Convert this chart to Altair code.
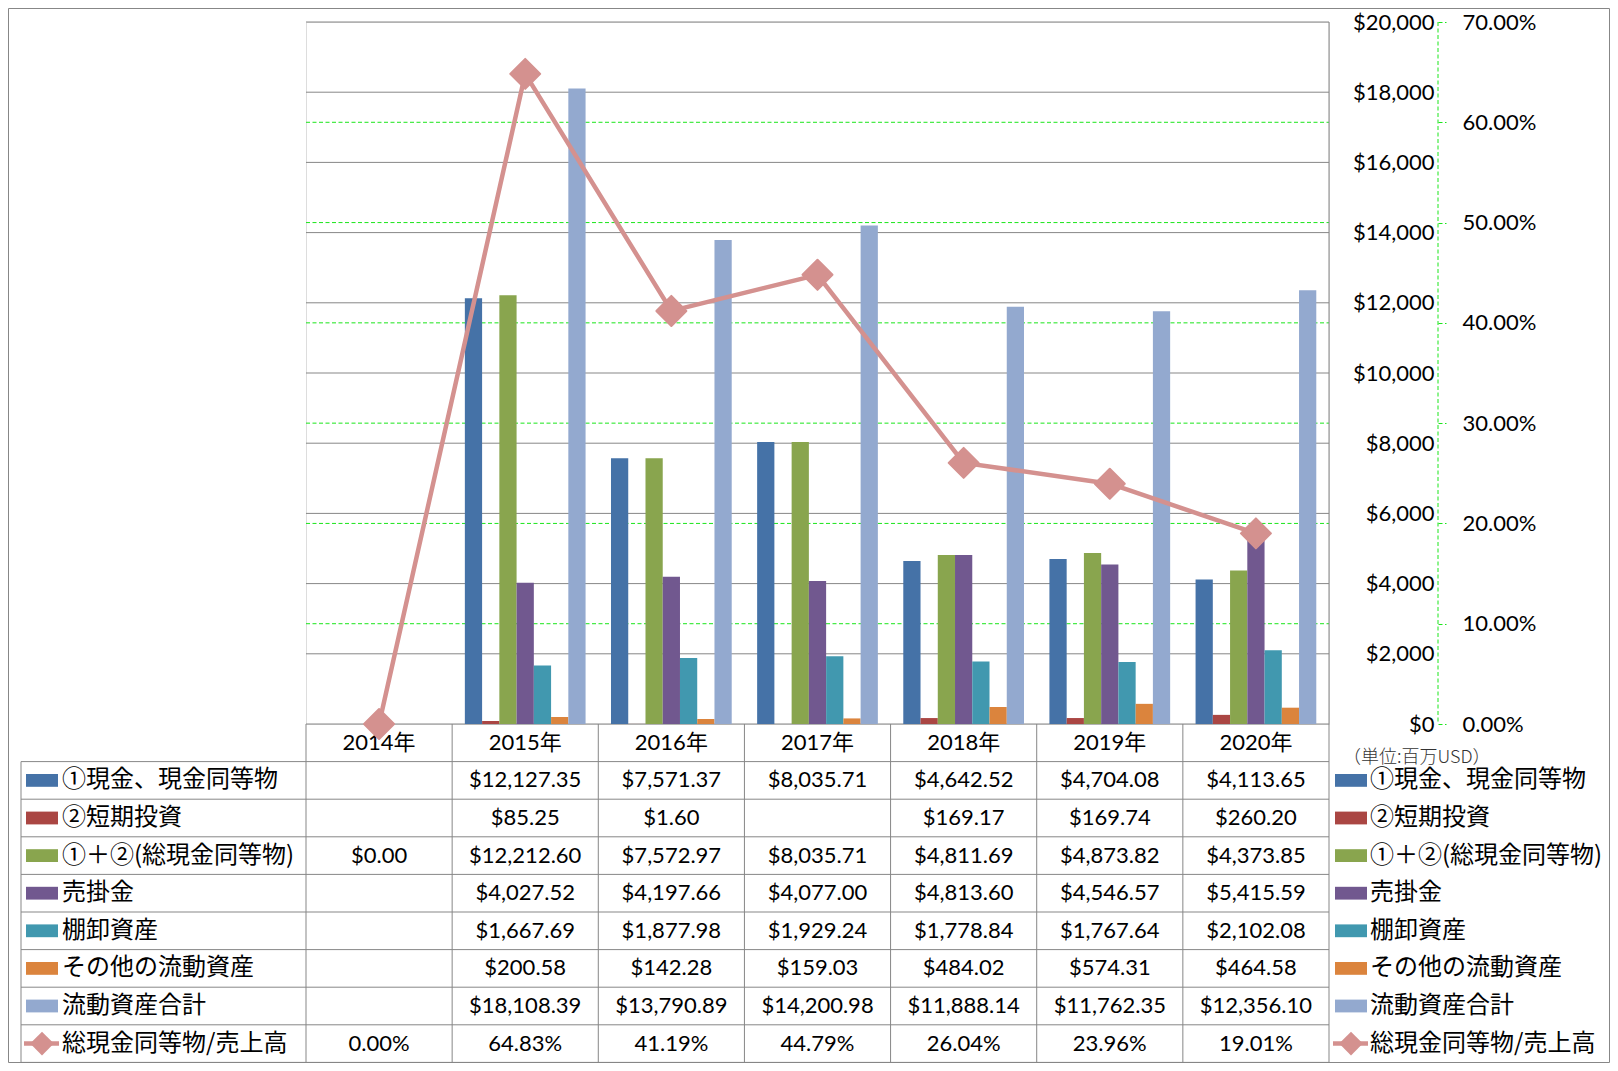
import altair as alt
import pandas as pd

# ---------------- data ----------------
years = ["2014年", "2015年", "2016年", "2017年", "2018年", "2019年", "2020年"]
series = ["①現金、現金同等物", "②短期投資", "①＋②(総現金同等物)", "売掛金",
          "棚卸資産", "その他の流動資産", "流動資産合計"]
colors = ["#4572A7", "#AA4643", "#89A54E", "#71588F", "#4198AF", "#DB843D", "#93A9CF"]

cash = [None, 12127.35, 7571.37, 8035.71, 4642.52, 4704.08, 4113.65]
short_inv = [None, 85.25, 1.60, None, 169.17, 169.74, 260.20]
total_cash = [0.00, 12212.60, 7572.97, 8035.71, 4811.69, 4873.82, 4373.85]
receivables = [None, 4027.52, 4197.66, 4077.00, 4813.60, 4546.57, 5415.59]
inventory = [None, 1667.69, 1877.98, 1929.24, 1778.84, 1767.64, 2102.08]
other_current = [None, 200.58, 142.28, 159.03, 484.02, 574.31, 464.58]
total_current = [None, 18108.39, 13790.89, 14200.98, 11888.14, 11762.35, 12356.10]
ratio_pct = [0.00, 64.83, 41.19, 44.79, 26.04, 23.96, 19.01]
line_name = "総現金同等物/売上高"
unit_note = "（単位:百万USD）"

dollar_ticks = [0, 2000, 4000, 6000, 8000, 10000, 12000, 14000, 16000, 18000, 20000]
pct_ticks = [0, 0.1, 0.2, 0.3, 0.4, 0.5, 0.6, 0.7]
pct_grid = [0.1, 0.2, 0.3, 0.4, 0.5, 0.6]

series_values = [cash, short_inv, total_cash, receivables, inventory, other_current, total_current]

# ---------------- layout / style ----------------
W, H = 1023, 702
PL, PR, PT, PB = 298, 281, 14, 339
ROW_RANGE = [H, H + PB - 0.6]
FONT_NUM = "Lato, 'Noto Sans CJK JP', sans-serif"
FONT_JP = "'Noto Sans CJK JP', sans-serif"
GRAY = "#878787"
GREEN = "#1be61b"
PINK = "#D4918F"
RECT_PATH = "M-1,-0.4L1,-0.4L1,0.4L-1,0.4Z"
DASH = [4, 2.5]

# ---------------- tables ----------------
bar_rows, money_rows = [], []
for i, (s, vals) in enumerate(zip(series, series_values)):
    for y, v in zip(years, vals):
        if v is not None:
            bar_rows.append({"year": y, "series": s, "value": v})
            money_rows.append({"year": y, "series": s, "value": v, "rc": i + 1.5})
bar_df = pd.DataFrame(bar_rows)
money_df = pd.DataFrame(money_rows)
line_df = pd.DataFrame({"year": years, "ratio": [r / 100 for r in ratio_pct], "rc": 8.5})
header_df = pd.DataFrame({"year": years, "rc": 0.5})
label_df = pd.DataFrame({"label": series + [line_name], "rc": [i + 1.5 for i in range(8)]})
swatch_df = pd.DataFrame({"series": series, "rc": [i + 1.5 for i in range(7)]})
legline_df = pd.DataFrame({"rc": [8.5]})

color_scale = alt.Scale(domain=series, range=colors)
x_scale = alt.Scale(domain=years, paddingInner=0, paddingOuter=0)
pct_scale = alt.Scale(domain=[0, 0.7], nice=False)
dollar_scale = alt.Scale(domain=[0, 20000], nice=False)


def xenc(bp=None):
    if bp is None:
        return alt.X("year:N", sort=years, scale=x_scale, axis=None)
    return alt.X("year:N", sort=years, scale=x_scale, axis=None, bandPosition=bp)


def rowy(f):
    return alt.Y(f"{f}:Q", scale=alt.Scale(domain=[0, 9], range=ROW_RANGE, nice=False, zero=False), axis=None)


one = pd.DataFrame({"k": [0]})

dollar_axis = alt.Axis(orient="right", values=dollar_ticks, format="$,d", title=None,
                       labelFont=FONT_NUM, labelFontSize=22, labelColor="#000000", labelAlign="right",
                       labelBaseline="middle", labelPadding=105, ticks=False, domain=False, grid=False,
                       labelFlush=False, labelOverlap=False)
pct_axis = alt.Axis(orient="right", offset=109, values=pct_ticks,
                    format=".2%", title=None, labelFont=FONT_NUM, labelFontSize=22, labelColor="#000000",
                    labelAlign="left", labelBaseline="middle", labelPadding=16, ticks=True, tickSize=8,
                    tickColor=GREEN, tickDash=DASH, domain=False, grid=False,
                    labelFlush=False, labelOverlap=False)

frame = alt.Chart(one).mark_rect(fillOpacity=0, stroke=GRAY, strokeWidth=1).encode(
    x=alt.value(-PL + 0.5), x2=alt.value(W + PR - 0.5), y=alt.value(-PT + 0.5), y2=alt.value(H + PB - 0.5))

# gridlines (behind the bars)
gray_grid = alt.Chart(pd.DataFrame({"g": dollar_ticks})).mark_rule(color=GRAY, strokeWidth=1).encode(
    x=alt.value(0), x2=alt.value(W), y=alt.Y("g:Q", scale=dollar_scale, axis=None))
green_grid = alt.Chart(pd.DataFrame({"g": pct_grid})).mark_rule(color=GREEN, strokeWidth=1, strokeDash=DASH).encode(
    x=alt.value(0), x2=alt.value(W), y=alt.Y("g:Q", scale=pct_scale, axis=None))
green_domain = alt.Chart(one).mark_rule(color=GREEN, strokeWidth=1, strokeDash=DASH).encode(
    x=alt.value(W + 109), y=alt.value(0), y2=alt.value(H))

bars = alt.Chart(bar_df).mark_bar().encode(
    x=xenc(),
    xOffset=alt.XOffset("series:N", sort=series,
                        scale=alt.Scale(domain=series, paddingInner=0, paddingOuter=0.737)),
    y=alt.Y("value:Q", scale=dollar_scale, axis=dollar_axis),
    color=alt.Color("series:N", scale=color_scale, legend=None),
)

# table grid lines
vlines = alt.Chart(pd.DataFrame({"year": years, "y0": 0, "y1": 9})).mark_rule(color=GRAY, strokeWidth=1).encode(
    x=xenc(0), y=rowy("y0"), y2="y1")
hlines = alt.Chart(pd.DataFrame({"k": list(range(1, 10))})).mark_rule(color=GRAY, strokeWidth=1).encode(
    x=alt.value(-285), x2=alt.value(W), y=rowy("k"))
leftline = alt.Chart(pd.DataFrame({"y0": [1], "y1": [9]})).mark_rule(color=GRAY, strokeWidth=1).encode(
    x=alt.value(-285), y=rowy("y0"), y2="y1")
rightline = alt.Chart(one).mark_rule(color=GRAY, strokeWidth=1).encode(
    x=alt.value(W), y=alt.value(0), y2=alt.value(ROW_RANGE[1]))

# table text
header_text = alt.Chart(header_df).mark_text(font=FONT_NUM, fontSize=22, color="#000000",
                                             baseline="middle", align="center").encode(
    x=xenc(0.5), y=rowy("rc"), text="year:N")
money_text = alt.Chart(money_df).mark_text(font=FONT_NUM, fontSize=22, color="#000000",
                                           baseline="middle", align="center").encode(
    x=xenc(0.5), y=rowy("rc"), text=alt.Text("value:Q", format="$,.2f"))
pct_text = alt.Chart(line_df).mark_text(font=FONT_NUM, fontSize=22, color="#000000",
                                        baseline="middle", align="center").encode(
    x=xenc(0.5), y=rowy("rc"), text=alt.Text("ratio:Q", format=".2%"))

labels_left = alt.Chart(label_df).mark_text(font=FONT_JP, fontSize=24, color="#000000",
                                            baseline="middle", align="left").encode(
    x=alt.value(-244), y=rowy("rc"), text="label:N")
labels_right = alt.Chart(label_df).mark_text(font=FONT_JP, fontSize=24, color="#000000",
                                             baseline="middle", align="left").encode(
    x=alt.value(1064), y=rowy("rc"), text="label:N")

sw_left = alt.Chart(swatch_df).mark_point(shape=RECT_PATH, filled=True, size=1024, opacity=1).encode(
    x=alt.value(-264), y=rowy("rc"), color=alt.Color("series:N", scale=color_scale, legend=None))
sw_right = alt.Chart(swatch_df).mark_point(shape=RECT_PATH, filled=True, size=1024, opacity=1).encode(
    x=alt.value(1045), y=rowy("rc"), color=alt.Color("series:N", scale=color_scale, legend=None))

legl_line = alt.Chart(legline_df).mark_rule(color=PINK, strokeWidth=4.5).encode(
    x=alt.value(-282), x2=alt.value(-247), y=rowy("rc"))
legl_dia = alt.Chart(legline_df).mark_point(shape="diamond", filled=True, size=560, opacity=1, color=PINK).encode(
    x=alt.value(-264), y=rowy("rc"))
legr_line = alt.Chart(legline_df).mark_rule(color=PINK, strokeWidth=4.5).encode(
    x=alt.value(1027), x2=alt.value(1062), y=rowy("rc"))
legr_dia = alt.Chart(legline_df).mark_point(shape="diamond", filled=True, size=560, opacity=1, color=PINK).encode(
    x=alt.value(1045), y=rowy("rc"))

unit_text = alt.Chart(pd.DataFrame({"t": [unit_note]})).mark_text(
    font=FONT_JP, fontSize=18, color="#333333", baseline="middle", align="left", fontWeight=300).encode(
    x=alt.value(1037), y=alt.value(736), text="t:N")

# ratio line
line = alt.Chart(line_df).mark_line(color=PINK, strokeWidth=4.5, strokeJoin="round").encode(
    x=xenc(0.5), y=alt.Y("ratio:Q", scale=pct_scale, axis=pct_axis))
points = alt.Chart(line_df).mark_point(shape="diamond", filled=True, size=900, opacity=1, color=PINK,
                                       stroke=PINK, strokeWidth=2, strokeJoin="round").encode(
    x=xenc(0.5), y=alt.Y("ratio:Q", scale=pct_scale, axis=None))

chart = alt.layer(
    frame, gray_grid, green_grid, green_domain, bars, vlines, hlines, leftline, rightline,
    header_text, money_text, pct_text, labels_left, labels_right,
    sw_left, sw_right, legl_line, legl_dia, legr_line, legr_dia, unit_text,
    line, points,
).resolve_scale(y="independent").properties(
    width=W, height=H,
    autosize=alt.AutoSizeParams(type="none"),
    padding={"left": PL, "right": PR, "top": PT, "bottom": PB},
).configure_view(stroke=None).configure(background="white")

chart.save("out.html", embed_options={"renderer": "svg", "actions": False})
